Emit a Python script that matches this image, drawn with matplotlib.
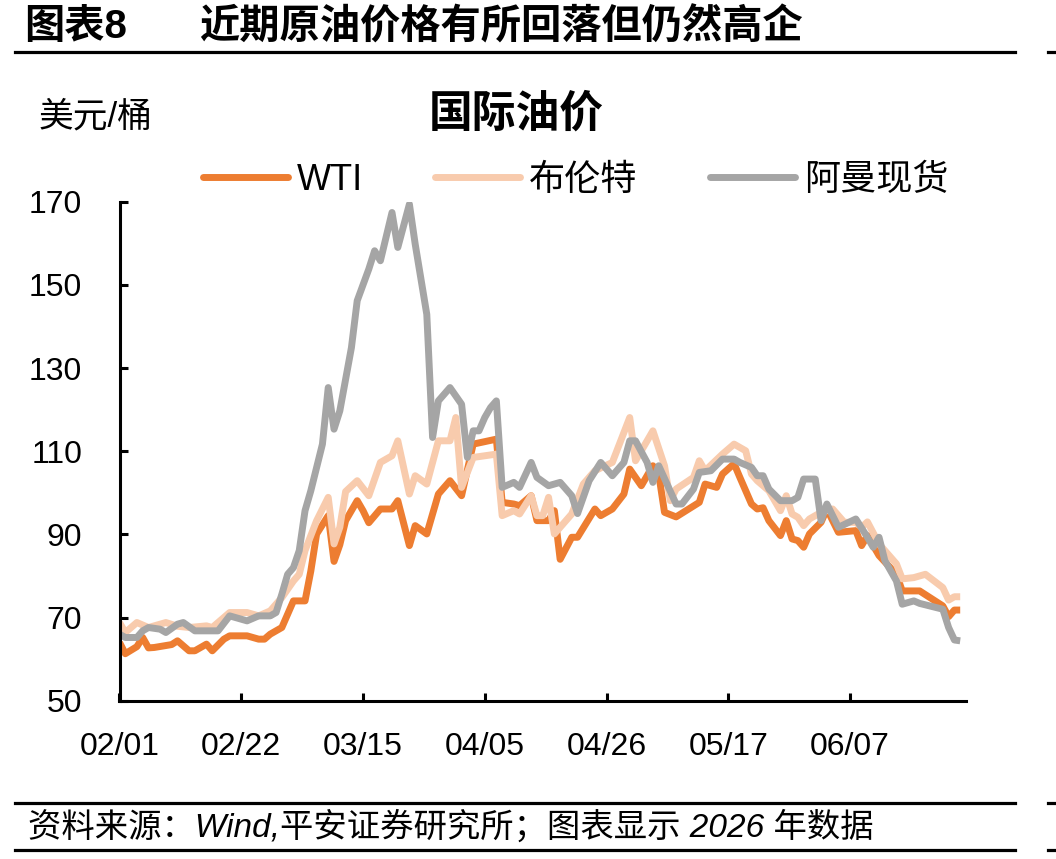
import numpy as np
import pandas as pd
import matplotlib
matplotlib.use('Agg')
import matplotlib.pyplot as plt
import matplotlib.dates as mdates
from matplotlib.lines import Line2D

plt.rcParams['font.family'] = ['Liberation Sans', 'Noto Sans CJK SC']

start = pd.Timestamp('2026-02-01')

# days after 02/01, price in USD/bbl
wti_days = [0, 1, 3, 4, 5, 6, 9, 10, 12, 13, 15, 16, 18, 19, 22, 24, 25, 26, 28, 29,
            30, 32, 33, 34, 36, 37, 38, 39, 41, 42, 43, 45, 47, 48, 50, 51, 53, 55, 57, 59,
            61, 65, 66, 68, 69, 71, 72, 74, 75, 76, 78, 79, 82, 83, 85, 87, 88, 90, 92, 93,
            94, 96, 100, 101, 103, 104, 106, 107, 109, 110, 111, 112, 114, 115, 116, 117, 118, 119, 121, 122,
            124, 127, 128, 129, 131, 134, 135, 138, 142, 143, 144, 145]
wti_vals = [64.0, 61.3, 63.0, 65.2, 62.7, 62.8, 63.5, 64.4, 62.0, 62.0, 63.6, 62.0, 64.8, 65.6, 65.6, 64.8, 64.8, 66.0, 67.6, 70.8,
            74.0, 74.0, 81.2, 90.1, 94.5, 83.5, 87.5, 93.3, 98.1, 95.7, 92.8, 96.1, 96.1, 98.1, 87.3, 92.1, 90.1, 99.7, 102.9, 99.3,
            111.7, 112.9, 97.7, 97.3, 96.9, 99.3, 93.3, 93.3, 95.7, 84.0, 89.3, 89.3, 96.1, 94.5, 96.1, 99.7, 105.7, 101.7, 106.5, 104.5,
            95.3, 94.2, 97.7, 102.1, 101.3, 104.5, 107.0, 103.7, 97.3, 96.1, 96.4, 93.3, 89.7, 93.3, 88.9, 88.5, 86.9, 90.1, 92.9, 96.1,
            90.5, 90.9, 87.3, 89.7, 84.9, 80.4, 76.4, 76.4, 72.8, 70.2, 71.8, 71.8]

brent_days = [0, 1, 3, 5, 8, 10, 12, 15, 16, 19, 22, 24, 26, 28, 30, 31, 32, 34, 36, 37,
              38, 39, 41, 43, 45, 47, 48, 50, 51, 53, 55, 57, 58, 59, 61, 65, 66, 68, 69, 71,
              72, 73, 74, 75, 78, 80, 82, 85, 86, 88, 89, 92, 94, 95, 96, 99, 100, 101, 104, 106,
              108, 109, 110, 112, 114, 115, 116, 117, 118, 119, 121, 123, 125, 127, 128, 129, 131, 134, 135, 137,
              139, 142, 143, 144, 145]
brent_vals = [68.8, 66.4, 68.8, 67.6, 68.8, 67.9, 67.6, 68.0, 67.6, 71.2, 71.2, 70.4, 71.6, 74.8, 78.8, 80.4, 86.1, 93.3, 98.9, 87.7,
              91.7, 100.3, 102.9, 99.3, 107.3, 108.9, 112.5, 99.7, 104.1, 102.1, 112.5, 112.5, 118.1, 101.3, 108.5, 109.3, 94.5, 95.7, 94.9, 99.3,
              94.5, 94.5, 98.9, 90.1, 94.9, 102.1, 105.3, 107.3, 110.9, 118.1, 107.7, 114.9, 106.5, 98.1, 100.9, 103.7, 107.7, 105.3, 109.3, 111.7,
              110.1, 104.5, 102.9, 100.5, 95.7, 99.3, 94.9, 94.1, 92.1, 93.7, 95.3, 96.1, 92.9, 92.9, 91.7, 93.0, 87.7, 82.9, 79.3, 79.6,
              80.4, 77.2, 74.2, 75.0, 75.0]

oman_days = [0, 1, 3, 4, 5, 7, 8, 10, 11, 13, 17, 19, 20, 22, 24, 26, 27, 28, 29, 30,
             31, 32, 33, 35, 36, 37, 38, 40, 41, 43, 44, 45, 47, 48, 50, 51, 53, 54, 55, 57,
             59, 60, 61, 62, 63, 64, 65, 66, 68, 69, 71, 72, 74, 76, 78, 79, 81, 83, 85, 87,
             88, 89, 91, 92, 93, 96, 97, 99, 100, 102, 104, 106, 107, 109, 110, 111, 112, 114, 116, 117,
             118, 120, 121, 122, 124, 127, 129, 130, 131, 132, 134, 135, 137, 138, 142, 143, 144, 145]
oman_vals = [66.0, 65.2, 65.2, 66.8, 67.6, 67.2, 66.4, 68.4, 68.8, 66.8, 66.8, 70.4, 70.0, 69.2, 70.4, 70.4, 71.2, 75.6, 80.4, 82.0,
             86.1, 95.7, 100.5, 111.7, 125.3, 115.3, 119.7, 134.9, 146.2, 153.8, 158.2, 155.8, 167.4, 159.0, 169.4, 159.8, 142.9, 113.3, 122.1, 125.3,
             121.3, 108.5, 114.9, 114.9, 118.1, 120.5, 122.1, 101.3, 102.5, 101.3, 107.3, 103.7, 101.7, 102.5, 99.3, 95.0, 102.9, 107.3, 104.1, 107.3,
             112.5, 112.5, 107.3, 102.5, 106.5, 97.3, 97.3, 100.9, 104.9, 105.3, 108.1, 108.1, 107.3, 106.1, 104.1, 104.1, 100.9, 98.1, 98.1, 98.9,
             103.3, 103.3, 93.3, 97.3, 91.7, 93.7, 89.3, 86.9, 89.3, 83.7, 78.8, 73.2, 74.0, 73.4, 72.0, 67.6, 64.6, 64.4]

series_names = ['WTI', '布伦特', '阿曼现货']
series_colors = ['#ED7D31', '#F8CBAD', '#A5A5A5']

W, H = 1056, 859
fig = plt.figure(figsize=(W / 100, H / 100), dpi=100)
ax = fig.add_axes([119.5 / W, 1 - 700.7 / H, (966 - 119.5) / W, (700.7 - 201.7) / H])

def to_dates(days):
    return start + pd.to_timedelta(days, unit='D')

handles = []
for days, vals, name, c in zip([wti_days, brent_days, oman_days],
                               [wti_vals, brent_vals, oman_vals],
                               series_names, series_colors):
    ln, = ax.plot(to_dates(days), vals, color=c, lw=5, label=name,
                  solid_joinstyle='round', solid_capstyle='butt')
    handles.append(ln)

ax.set_ylim(50, 170)
ax.set_yticks(np.arange(50, 171, 20))
ax.set_xlim(start, start + pd.Timedelta(days=146))
ax.set_xticks(to_dates(np.arange(0, 127, 21)))
ax.xaxis.set_major_formatter(mdates.DateFormatter('%m/%d'))

for s in ['top', 'right']:
    ax.spines[s].set_visible(False)
for s in ['left', 'bottom']:
    ax.spines[s].set_linewidth(2.2)
ax.tick_params(direction='in', length=6, width=2.2, labelsize=23)
ax.tick_params(axis='y', pad=27)
ax.tick_params(axis='x', pad=22.5)

fig.text(24 / W, 1 - 27 / H, '图表8', fontsize=29, fontweight='bold', va='center', ha='left')
fig.text(199 / W, 1 - 27 / H, '近期原油价格有所回落但仍然高企', fontsize=29, fontweight='bold',
         va='center', ha='left')
fig.text(39 / W, 1 - 117 / H, '美元/桶', fontsize=25, va='center', ha='left')
fig.text(516 / W, 1 - 115 / H, '国际油价', fontsize=31.5, fontweight='bold', va='center', ha='center')

leg = fig.legend(handles, series_names, loc='center left', bbox_to_anchor=(203 / W, 1 - 180 / H),
                 ncol=3, frameon=False, fontsize=26, handlelength=2.35, handletextpad=0.25,
                 columnspacing=2.0, borderpad=0, borderaxespad=0)
for l in leg.get_lines():
    l.set_solid_capstyle('round')

for y in [52, 802.5, 850]:
    fig.add_artist(Line2D([15 / W, 1015 / W], [1 - y / H, 1 - y / H], transform=fig.transFigure,
                          color='black', lw=2.3))
    fig.add_artist(Line2D([1048 / W, 1056 / W], [1 - y / H, 1 - y / H], transform=fig.transFigure,
                          color='black', lw=2.3))

fig.text(28 / W, 1 - 827 / H, '资料来源：Wind,平安证券研究所；图表显示 2026 年数据', fontsize=24,
         va='center', ha='left', style='italic')

fig.savefig('out.png', dpi=100)
